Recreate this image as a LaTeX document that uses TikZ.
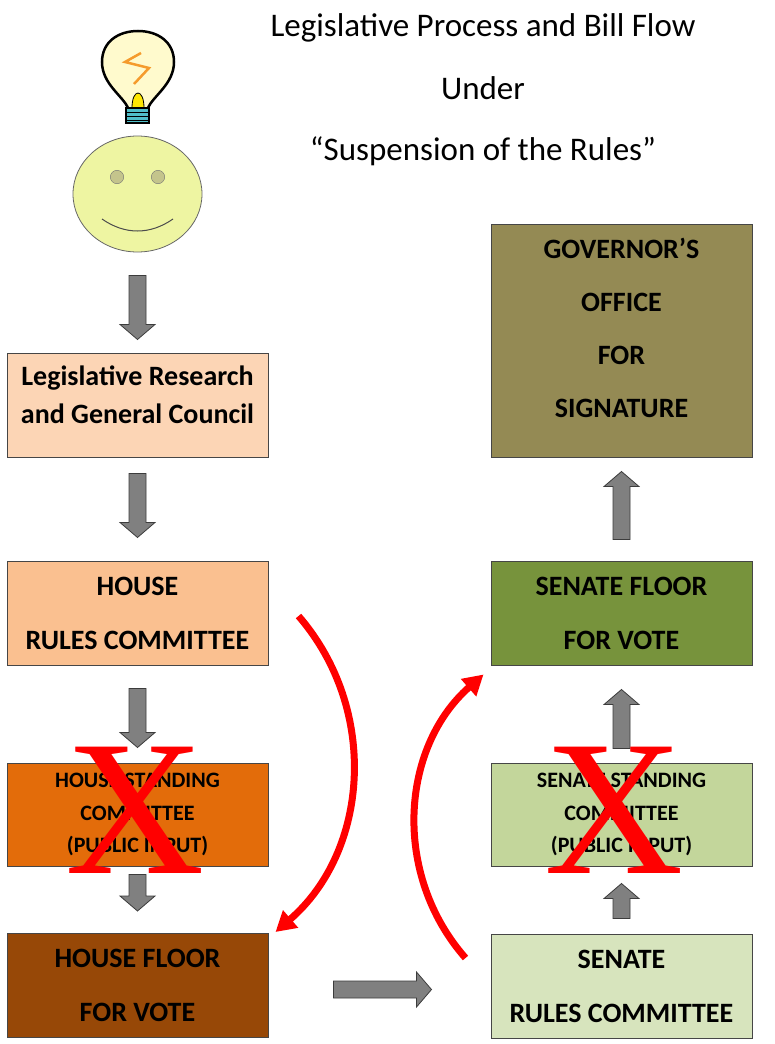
\documentclass[tikz,border=0pt]{standalone}
\usepackage{fontspec}
\setmainfont{Carlito}
\newfontfamily\crossfont{Liberation Serif}
\usepackage{tikz}
\usetikzlibrary{arrows.meta, shapes.geometric, positioning, calc}
\definecolor{ResearchPeach}{RGB}{252,213,181}
\definecolor{RulesPeach}{RGB}{250,192,144}
\definecolor{StandOrange}{RGB}{227,108,10}
\definecolor{FloorBrown}{RGB}{151,72,7}
\definecolor{GovOlive}{RGB}{148,138,84}
\definecolor{SenFloorGreen}{RGB}{119,147,60}
\definecolor{SenStandGreen}{RGB}{195,214,155}
\definecolor{SenRulesGreen}{RGB}{215,228,189}
\definecolor{BoxEdge}{RGB}{70,70,70}
\definecolor{ArrowGray}{RGB}{128,128,128}
\definecolor{ArrowEdge}{RGB}{60,60,60}
\definecolor{FaceYellow}{RGB}{238,245,162}
\definecolor{EyeOlive}{RGB}{196,196,140}
\definecolor{BulbGlow}{RGB}{255,250,205}
\definecolor{CoilCyan}{RGB}{80,190,200}
\definecolor{SparkOrange}{RGB}{245,155,45}
\definecolor{CrossRed}{RGB}{255,0,0}

\begin{document}
\begin{tikzpicture}[x=1pt, y=-1pt,
    box/.style={draw=BoxEdge, line width=1pt, minimum width=261pt, minimum height=104pt,
        align=center, inner sep=0pt, font=\bfseries\fontsize{28}{54}\selectfont},
    smallbox/.style={box, minimum height=103pt, font=\bfseries\fontsize{22}{32.5}\selectfont},
    heading/.style={anchor=base, inner sep=0pt, font=\fontsize{33}{33}\selectfont},
    crossout/.style={text=CrossRed, inner sep=0pt, font=\crossfont\fontsize{193}{193}\selectfont},
    bypass/.style={draw=CrossRed, line width=7pt, -{Triangle[length=20pt, width=22pt]}},
    blockarrow/.style={draw=ArrowEdge, fill=ArrowGray, line width=0.8pt, line join=miter,
        to path={($(\tikztotarget)!15pt!(\tikztostart)$) coordinate (headbase)
            ($(\tikztostart)!8.5pt!90:(\tikztotarget)$)
            -- ($(headbase)!8.5pt!-90:(\tikztostart)$)
            -- ($(headbase)!17.5pt!-90:(\tikztostart)$)
            -- (\tikztotarget)
            -- ($(headbase)!17.5pt!90:(\tikztostart)$)
            -- ($(headbase)!8.5pt!90:(\tikztostart)$)
            -- ($(\tikztostart)!8.5pt!-90:(\tikztotarget)$) -- cycle}}]
    \useasboundingbox (0,0) rectangle (775,1044);

    % title
    \node[heading] (title1) at (483,36)  {Legislative Process and Bill Flow};
    \node[heading] (title2) at (483,99)  {Under};
    \node[heading] (title3) at (483,160) {“Suspension of the Rules”};

    % light bulb
    \draw[fill=BulbGlow, line width=2.5pt] (128,108) .. controls (123,96) and (102,84) .. (102,62)
        .. controls (102,42) and (118,31) .. (138,31) .. controls (158,31) and (174,42) .. (174,62)
        .. controls (174,84) and (153,96) .. (148,108);
    \draw[SparkOrange, line width=2.5pt, line join=miter] (141,53) -- (125,62) -- (149,68) -- (134,84);
    \draw[fill=yellow!90!orange, line width=0.8pt] (132,108) .. controls (132,98) and (135,93) .. (138,93)
        .. controls (141,93) and (144,98) .. (144,108) -- cycle;
    \draw[fill=CoilCyan, line width=1.2pt] (126,108) rectangle (149,123);
    \draw[line width=1pt] (126,112) -- (149,112) (126,116) -- (149,116) (126,120) -- (149,120);

    % smiley
    \node[ellipse, draw=black!60, line width=0.8pt, fill=FaceYellow, minimum width=129pt, minimum height=116pt] (face) at (137.5,194) {};
    \draw[fill=EyeOlive, draw=black!55] ($(face.center)+(-20.5,-17)$) circle [radius=6.7pt];
    \draw[fill=EyeOlive, draw=black!55] ($(face.center)+(20.5,-17)$) circle [radius=6.7pt];
    \draw[black!70, line width=1pt] (102,219) .. controls (125,235) and (150,235) .. (173,219);

    % house side
    \node[box, fill=ResearchPeach, font=\bfseries\fontsize{28}{38}\selectfont] (lr) at (137.5,405)
        {Legislative Research\\and General Council\\[-18pt]\mbox{}};
    \node[box, fill=RulesPeach] (hrc) at (137.5,613) {HOUSE\\RULES COMMITTEE};
    \node[smallbox, fill=StandOrange] (hsc) at (137.5,814.5) {HOUSE STANDING\\COMMITTEE\\(PUBLIC INPUT)};
    \node[box, fill=FloorBrown] (hfv) at (137.5,985.5) {HOUSE FLOOR\\FOR VOTE};

    % senate side
    \node[box, fill=GovOlive, minimum height=233pt, font=\bfseries\fontsize{28}{53}\selectfont] (gov) at (621.5,340.5)
        {GOVERNOR’S\\OFFICE\\FOR\\SIGNATURE\\[-27pt]\mbox{}};
    \node[box, fill=SenFloorGreen] (sfv) at (621.5,613) {SENATE FLOOR\\FOR VOTE};
    \node[smallbox, fill=SenStandGreen] (ssc) at (621.5,814.5) {SENATE STANDING\\COMMITTEE\\(PUBLIC INPUT)};
    \node[box, fill=SenRulesGreen] (src) at (621.5,986) {SENATE\\RULES COMMITTEE};

    % normal flow
    \draw[blockarrow] ($(face.south)+(0,23)$) to ($(lr.north)+(0,-13)$);
    \draw[blockarrow] ($(lr.south)+(0,16)$) to ($(hrc.north)+(0,-23)$);
    \draw[blockarrow] ($(hrc.south)+(0,23)$) to ($(hsc.north)+(0,-15)$);
    \draw[blockarrow] ($(hsc.south)+(0,8)$) to ($(hfv.north)+(0,-22)$);
    \draw[blockarrow] ($(hfv.east)+(65,4)$) to ($(src.west)+(-59,3.5)$);
    \draw[blockarrow] ($(src.north)+(0,-15)$) to ($(ssc.south)+(0,17)$);
    \draw[blockarrow] ($(ssc.north)+(0,-14)$) to ($(sfv.south)+(0,24)$);
    \draw[blockarrow] ($(sfv.north)+(0,-21)$) to ($(gov.south)+(0,14)$);

    % standing committees skipped
    \node[crossout] (hscx) at ($(hsc.center)+(-2.5,-4.5)$) {X};
    \node[crossout] (sscx) at ($(ssc.center)+(-7,-4.5)$) {X};
    \draw[bypass] ($(hrc.east)+(30,3)$) to[bend left=45] ($(hfv.north east)+(7,-1)$);
    \draw[bypass] ($(src.west)+(-25,-28)$) to[bend left=45] ($(sfv.south west)+(-7,9)$);
\end{tikzpicture}
\end{document}
